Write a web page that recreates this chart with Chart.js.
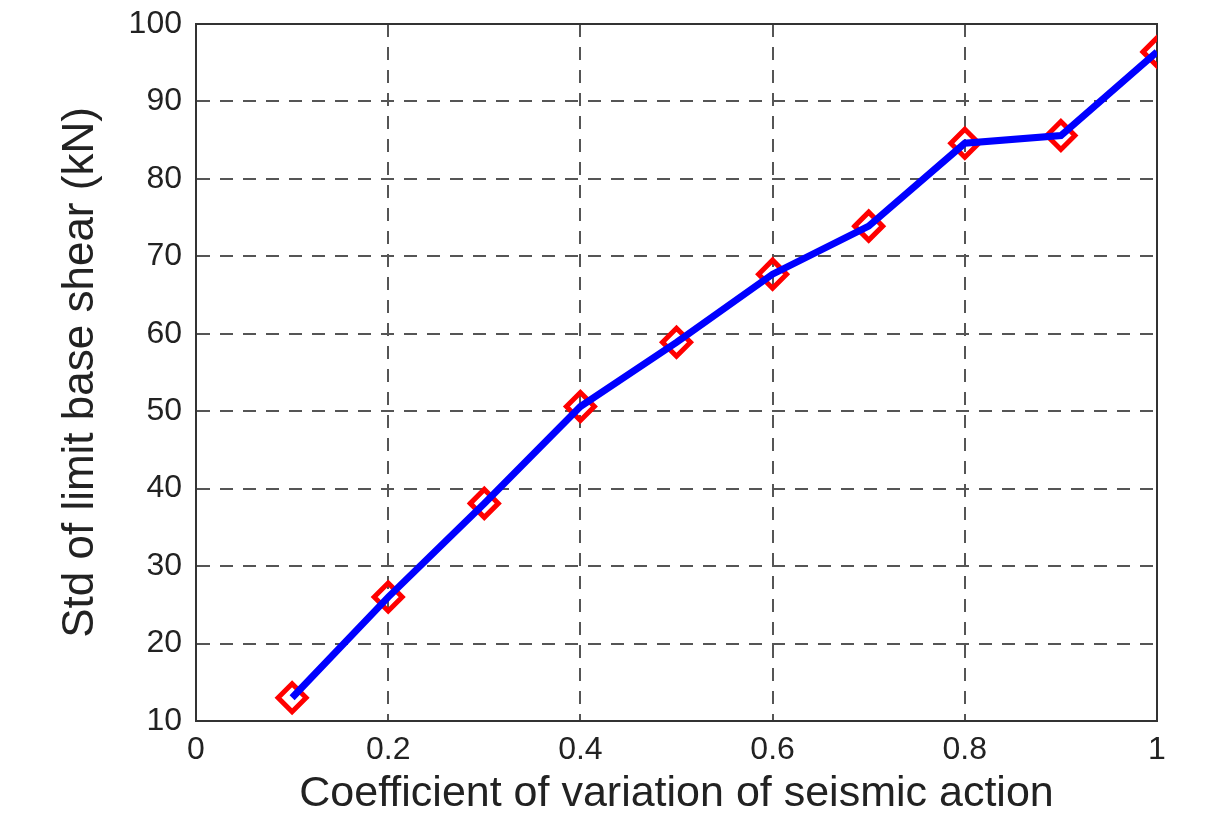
<!DOCTYPE html>
<html>
<head>
<meta charset="utf-8">
<script src="https://cdn.jsdelivr.net/npm/chart.js@4.4.0/dist/chart.umd.min.js"></script>
<style>
  html, body { margin: 0; padding: 0; background: #fff; }
  #wrap { width: 1218px; height: 816px; position: relative; }
</style>
</head>
<body>
<div id="wrap"><canvas id="chart"></canvas></div>
<script>
// coefficient of variation vs. std of limit base shear
const cov = [0.1, 0.2, 0.3, 0.4, 0.5, 0.6, 0.7, 0.8, 0.9, 1.0];
const stdShear = [13.0, 26.0, 38.1, 50.6, 58.9, 67.7, 73.9, 84.6, 85.6, 96.4];

const xTicks = [0, 0.2, 0.4, 0.6, 0.8, 1];
const yTicks = [10, 20, 30, 40, 50, 60, 70, 80, 90, 100];

const xTitle = 'Coefficient of variation of seismic action';
const yTitle = 'Std of limit base shear (kN)';

const points = cov.map((x, i) => ({ x: x, y: stdShear[i] }));

// frame round the plot area, under the data
const frame = {
  id: 'frame',
  beforeDatasetsDraw(chart) {
    const a = chart.chartArea, ctx = chart.ctx;
    ctx.save();
    ctx.strokeStyle = '#333';
    ctx.lineWidth = 2;
    ctx.strokeRect(a.left, a.top, a.right - a.left, a.bottom - a.top);
    ctx.restore();
  }
};

const font = 'Liberation Sans, Arial, Helvetica, sans-serif';

function axisGrid() {
  return {
    grid: { color: '#555', lineWidth: 2, drawTicks: false },
    border: { display: true, color: '#333', width: 2, dash: [13, 10] }
  };
}

new Chart(document.getElementById('chart'), {
  type: 'scatter',
  data: {
    datasets: [
      {
        label: 'line',
        data: points,
        showLine: true,
        borderColor: '#0000ff',
        borderWidth: 7,
        pointRadius: 0,
        order: 1
      },
      {
        label: 'markers',
        data: points,
        showLine: false,
        pointStyle: 'rectRot',
        pointRadius: 14,
        pointBorderWidth: 5,
        pointBorderColor: '#ff0000',
        pointBackgroundColor: 'rgba(0,0,0,0)',
        order: 2
      }
    ]
  },
  options: {
    responsive: true,
    maintainAspectRatio: false,
    animation: false,
    layout: { padding: { left: 0, right: 61, top: 24, bottom: 0 } },
    plugins: { legend: { display: false }, tooltip: { enabled: false } },
    scales: {
      x: Object.assign(axisGrid(), {
        type: 'linear',
        min: 0,
        max: 1,
        afterBuildTicks: s => { s.ticks = xTicks.map(v => ({ value: v })); },
        afterFit: s => { s.height = 95; s.paddingLeft = 0; s.paddingRight = 0; },
        ticks: {
          color: '#222',
          padding: 10,
          font: { family: font, size: 32 },
          callback: v => String(v)
        },
        title: {
          display: true,
          text: xTitle,
          color: '#222',
          padding: { top: 0, bottom: 0 },
          font: { family: font, size: 43, lineHeight: 1 }
        }
      }),
      y: Object.assign(axisGrid(), {
        type: 'linear',
        min: 10,
        max: 100,
        afterBuildTicks: s => { s.ticks = yTicks.map(v => ({ value: v })); },
        afterFit: s => { s.width = 196; s.paddingTop = 0; s.paddingBottom = 0; },
        ticks: {
          color: '#222',
          padding: 14,
          font: { family: font, size: 32 }
        },
        title: {
          display: true,
          text: yTitle,
          color: '#222',
          padding: { top: 59, bottom: 0 },
          font: { family: font, size: 44, lineHeight: 1 }
        }
      })
    }
  },
  plugins: [frame]
});
</script>
</body>
</html>
